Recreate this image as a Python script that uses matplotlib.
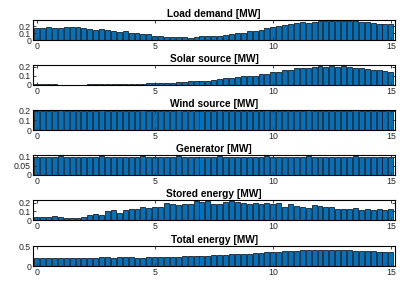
import numpy as np
import matplotlib
matplotlib.use("Agg")
import matplotlib.pyplot as plt

plt.rcParams["font.family"] = ["Liberation Sans", "DejaVu Sans"]

# time axis [h], one bar per quarter hour
t = np.arange(61) * 0.25

load = [0.17, 0.18, 0.19, 0.18, 0.18, 0.19, 0.19, 0.185, 0.17, 0.155,
        0.15, 0.155, 0.14, 0.13, 0.12, 0.13, 0.105, 0.1, 0.085, 0.08,
        0.065, 0.055, 0.05, 0.045, 0.04, 0.045, 0.035, 0.04, 0.055, 0.055,
        0.06, 0.06, 0.07, 0.085, 0.095, 0.1, 0.125, 0.13, 0.145, 0.17,
        0.19, 0.2, 0.215, 0.235, 0.25, 0.255, 0.25, 0.255, 0.27, 0.275,
        0.28, 0.28, 0.275, 0.27, 0.27, 0.265, 0.265, 0.245, 0.235, 0.23,
        0.225]

solar = [0.01, 0.01, 0.015, 0.008, 0.005, 0.003, 0.003, 0.002, 0.005, 0.008,
         0.01, 0.012, 0.01, 0.012, 0.015, 0.01, 0.012, 0.015, 0.015, 0.018,
         0.02, 0.02, 0.022, 0.025, 0.03, 0.03, 0.04, 0.045, 0.045, 0.045,
         0.05, 0.07, 0.075, 0.075, 0.09, 0.095, 0.095, 0.1, 0.12, 0.125,
         0.14, 0.14, 0.16, 0.17, 0.19, 0.19, 0.19, 0.2, 0.205, 0.2,
         0.205, 0.2, 0.205, 0.2, 0.19, 0.19, 0.175, 0.17, 0.16, 0.15, 0.14]

wind = [0.2, 0.195, 0.2, 0.2, 0.205, 0.2, 0.195, 0.2, 0.2, 0.198, 0.2, 0.205,
        0.2, 0.195, 0.2, 0.2, 0.198, 0.2, 0.205, 0.2, 0.2, 0.195, 0.2, 0.2,
        0.205, 0.2, 0.198, 0.2, 0.2, 0.195, 0.2, 0.205, 0.2, 0.2, 0.198, 0.2,
        0.2, 0.195, 0.2, 0.205, 0.2, 0.2, 0.198, 0.2, 0.195, 0.2, 0.205, 0.2,
        0.2, 0.198, 0.2, 0.2, 0.195, 0.2, 0.205, 0.2, 0.2, 0.198, 0.2, 0.195,
        0.2]

gen = [0.1, 0.098, 0.1, 0.1, 0.102, 0.1, 0.098, 0.1, 0.1, 0.099, 0.1, 0.102,
       0.1, 0.098, 0.1, 0.1, 0.099, 0.1, 0.102, 0.1, 0.1, 0.098, 0.1, 0.1,
       0.102, 0.1, 0.099, 0.1, 0.1, 0.098, 0.1, 0.102, 0.1, 0.1, 0.099, 0.1,
       0.1, 0.098, 0.1, 0.102, 0.1, 0.1, 0.099, 0.1, 0.098, 0.1, 0.102, 0.1,
       0.1, 0.099, 0.1, 0.1, 0.098, 0.1, 0.102, 0.1, 0.1, 0.099, 0.1, 0.098,
       0.1]

stored = [0.04, 0.04, 0.03, 0.045, 0.035, 0.02, 0.025, 0.025, 0.03, 0.06,
          0.07, 0.06, 0.1, 0.11, 0.085, 0.11, 0.13, 0.13, 0.155, 0.135,
          0.145, 0.15, 0.19, 0.18, 0.175, 0.185, 0.185, 0.22, 0.21, 0.215,
          0.18, 0.185, 0.21, 0.215, 0.205, 0.2, 0.18, 0.195, 0.18, 0.2,
          0.18, 0.19, 0.15, 0.185, 0.16, 0.15, 0.14, 0.175, 0.16, 0.155,
          0.15, 0.13, 0.13, 0.13, 0.14, 0.115, 0.125, 0.12, 0.13, 0.115,
          0.125]

total = [0.2, 0.205, 0.21, 0.2, 0.195, 0.2, 0.19, 0.195, 0.2, 0.2,
         0.21, 0.22, 0.215, 0.21, 0.215, 0.215, 0.215, 0.21, 0.2, 0.22,
         0.215, 0.22, 0.225, 0.22, 0.23, 0.25, 0.255, 0.25, 0.245, 0.255,
         0.27, 0.28, 0.28, 0.29, 0.295, 0.3, 0.31, 0.32, 0.33, 0.34,
         0.36, 0.35, 0.37, 0.385, 0.385, 0.39, 0.4, 0.395, 0.405, 0.4,
         0.4, 0.395, 0.395, 0.39, 0.385, 0.385, 0.375, 0.365, 0.36, 0.355,
         0.35]

titles = ["Load demand [MW]", "Solar source [MW]", "Wind source [MW]",
          "Generator [MW]", "Stored energy [MW]", "Total energy [MW]"]
series = [load, solar, wind, gen, stored, total]
ylims = [0.29, 0.22, 0.21, 0.11, 0.23, 0.5]
yticks = [[0, 0.1, 0.2], [0, 0.1, 0.2], [0, 0.1, 0.2],
          [0, 0.05, 0.1], [0, 0.1, 0.2], [0, 0.5]]
yticklabels = [["0", "0.1", "0.2"], ["0", "0.1", "0.2"], ["0", "0.1", "0.2"],
               ["0", "0.05", "0.1"], ["0", "0.1", "0.2"], ["0", "0.5"]]

fig = plt.figure(figsize=(4.09, 2.86), dpi=100)

left, width = 0.081, 0.885
tops = [20, 65, 110, 155, 200, 246]
h = 20

for k in range(6):
    y0 = 1 - (tops[k] + h) / 286
    ax = fig.add_axes([left, y0, width, h / 286])
    ax.bar(t, series[k], width=0.21, color="#0072BD", edgecolor="black", linewidth=0.5)
    ax.set_xlim(-0.15, 15.18)
    ax.set_ylim(0, ylims[k])
    ax.set_xticks([0, 5, 10, 15])
    ax.set_xticklabels(["0", "5", "10", "15"])
    ax.set_yticks(yticks[k])
    ax.set_yticklabels(yticklabels[k])
    ax.tick_params(direction="in", top=True, right=True, length=2.5, width=0.6,
                   labelsize=6.3, pad=1.5, colors="#262626")
    for s in ax.spines.values():
        s.set_linewidth(0.8)
    ax.set_title(titles[k], fontsize=7.3, fontweight="bold", pad=2.5)

fig.savefig("out.png", dpi=100)
